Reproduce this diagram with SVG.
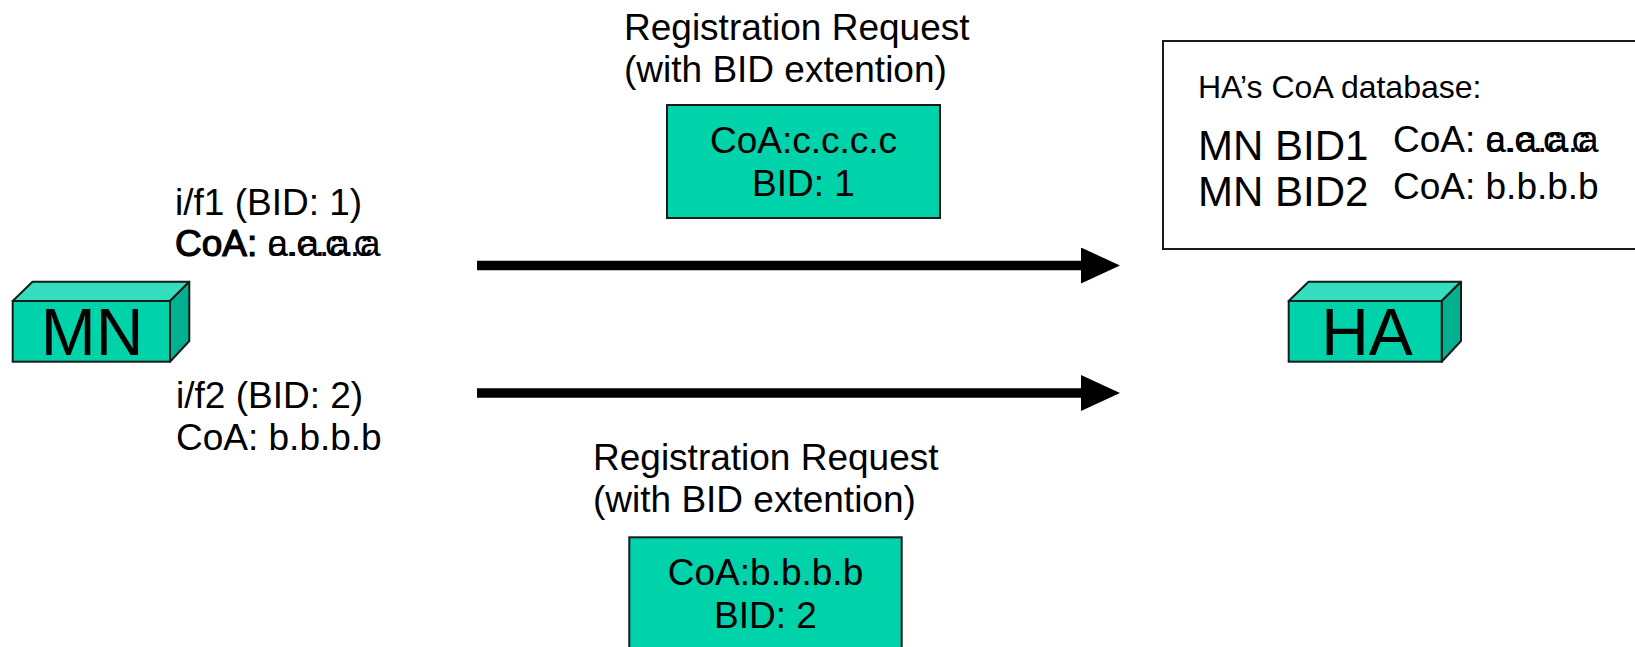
<svg xmlns="http://www.w3.org/2000/svg" width="1635" height="647" viewBox="0 0 1635 647">
<style>
text{font-family:"Liberation Sans",Arial,sans-serif;fill:#000}
.t37{font-size:37px}
.t32{font-size:32px}
.t42{font-size:42px}
.big{font-size:66px}
.mid{text-anchor:middle}
.front{fill:#00D2AA;stroke:#1a1a1a;stroke-width:2}
.top{fill:#33DDBD;stroke:#1a1a1a;stroke-width:2;stroke-linejoin:round}
.side{fill:#00B08E;stroke:#1a1a1a;stroke-width:2;stroke-linejoin:round}
.msg{fill:#00D2AA;stroke:#1a1a1a;stroke-width:2}
.conn{stroke:#000;stroke-width:9.3;fill:none}
.faux{stroke:#000;stroke-width:1.2}
</style>
<defs>
<marker id="ah" markerUnits="userSpaceOnUse" viewBox="0 0 39 36" refX="0" refY="18" markerWidth="39" markerHeight="36" orient="auto">
<path d="M0,0 L39,18 L0,36 z" fill="#000"/>
</marker>
</defs>
<rect width="1635" height="647" fill="#fff"/>

<g id="connectors">
<path class="conn" d="M477,265.5 H1081" marker-end="url(#ah)"/>
<path class="conn" d="M477,393 H1081" marker-end="url(#ah)"/>
</g>

<g id="MN">
<polygon class="top" points="12.7,301 32.5,281.7 189.3,281.7 170,301"/>
<polygon class="side" points="170,301 189.3,281.7 189.3,341 170,361.7"/>
<rect class="front" x="12.7" y="301" width="157.3" height="60.7"/>
<text class="big mid" x="92" y="355">MN</text>
</g>

<g id="HA">
<polygon class="top" points="1288.7,301 1308.5,281.7 1461,281.7 1441.7,301"/>
<polygon class="side" points="1441.7,301 1461,281.7 1461,341 1441.7,361.7"/>
<rect class="front" x="1288.7" y="301" width="153" height="60.7"/>
<text class="big mid" x="1367" y="355">HA</text>
</g>

<g id="if1-label">
<text class="t37" x="175" y="215">i/f1 (BID: 1)</text>
<text class="t37" x="175" y="256"><tspan class="faux">CoA:</tspan> a.a.a.a</text>
<text class="t37" x="267.5" y="256">c.c.c.c</text>
</g>

<g id="if2-label">
<text class="t37" x="176" y="408">i/f2 (BID: 2)</text>
<text class="t37" x="176" y="450">CoA: b.b.b.b</text>
</g>

<g id="req1-label">
<text class="t37" x="624" y="40">Registration Request</text>
<text class="t37" x="624" y="82">(with BID extention)</text>
</g>

<g id="req1-box">
<rect class="msg" x="667" y="105" width="273" height="113"/>
<text class="t37 mid" x="803.5" y="153">CoA:c.c.c.c</text>
<text class="t37 mid" x="803.5" y="196">BID: 1</text>
</g>

<g id="req2-label">
<text class="t37" x="593" y="470">Registration Request</text>
<text class="t37" x="593" y="512">(with BID extention)</text>
</g>

<g id="req2-box">
<rect class="msg" x="629.3" y="537.3" width="272.4" height="120"/>
<text class="t37 mid" x="765.5" y="585">CoA:b.b.b.b</text>
<text class="t37 mid" x="765.5" y="628">BID: 2</text>
</g>

<g id="HA-database">
<rect x="1163" y="41" width="480" height="208" fill="#fff" stroke="#1a1a1a" stroke-width="2"/>
<text class="t32" x="1198" y="98">HA’s CoA database:</text>
<text class="t42" x="1198" y="160">MN BID1</text>
<text class="t42" x="1198" y="206">MN BID2</text>
<text class="t37" x="1393" y="152">CoA: a.a.a.a</text>
<text class="t37" x="1485.5" y="152">c.c.c.c</text>
<text class="t37" x="1393" y="199">CoA: b.b.b.b</text>
</g>
</svg>
